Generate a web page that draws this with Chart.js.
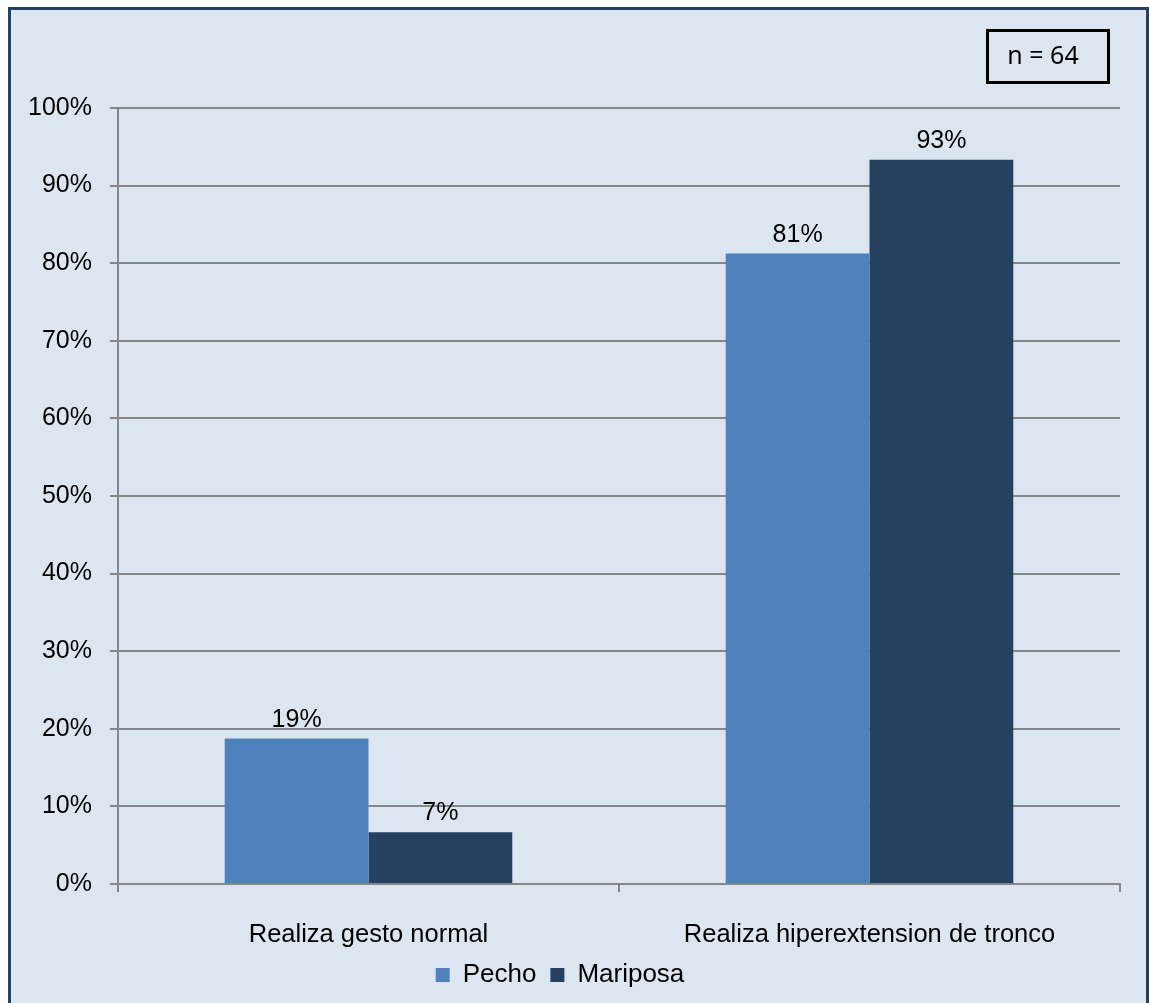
<!DOCTYPE html>
<html>
<head>
<meta charset="utf-8">
<script src="https://cdn.jsdelivr.net/npm/chart.js@4"></script>
<style>
  body { margin: 0; background: #ffffff; overflow: hidden; }
  #frame { position: absolute; left: 8px; top: 7px; width: 1135px; height: 1010px;
           border: 3px solid #254061; background: #dce6f1; }
  #wrap { position: absolute; left: 0; top: 0; width: 1149px; height: 1003px; }
</style>
</head>
<body>
<div id="frame"></div>
<div id="wrap"><canvas id="chart"></canvas></div>
<script>
const categories = ["Realiza gesto normal", "Realiza hiperextension de tronco"]
const seriesNames = ["Pecho", "Mariposa"]
const pecho = [18.75, 81.25]
const mariposa = [6.67, 93.33]
const sampleNote = "n = 64"

const font = "'Liberation Sans', Arial, sans-serif"

// value labels above the bars
const barLabels = {
  id: "barLabels",
  afterDatasetsDraw(chart) {
    const ctx = chart.ctx
    ctx.save()
    ctx.font = "25px " + font
    ctx.fillStyle = "#000000"
    ctx.textAlign = "center"
    ctx.textBaseline = "alphabetic"
    chart.data.datasets.forEach((ds, i) => {
      chart.getDatasetMeta(i).data.forEach((bar, j) => {
        ctx.fillText(Math.round(ds.data[j]) + "%", bar.x, bar.y - 12)
      })
    })
    ctx.restore()
  }
}

// the "n = 64" box in the corner
const noteBox = {
  id: "noteBox",
  afterDraw(chart) {
    const ctx = chart.ctx
    ctx.save()
    ctx.strokeStyle = "#000000"
    ctx.lineWidth = 3
    ctx.strokeRect(987.5, 30.5, 121, 52)
    ctx.font = "25px 'Noto Sans', sans-serif"
    ctx.fillStyle = "#000000"
    ctx.textAlign = "center"
    ctx.textBaseline = "middle"
    ctx.fillText(sampleNote, 1043, 57)
    ctx.restore()
  }
}

new Chart(document.getElementById("chart"), {
  type: "bar",
  plugins: [barLabels, noteBox],
  data: {
    labels: categories,
    datasets: [
      { label: seriesNames[0], data: pecho, backgroundColor: "#4f81bd" },
      { label: seriesNames[1], data: mariposa, backgroundColor: "#254061" }
    ]
  },
  options: {
    responsive: true,
    maintainAspectRatio: false,
    animation: false,
    layout: { padding: { top: 108, right: 29, left: 0, bottom: 5 } },
    datasets: { bar: { categoryPercentage: 0.574, barPercentage: 1 } },
    plugins: {
      tooltip: { enabled: false },
      legend: {
        position: "bottom",
        labels: {
          color: "#000000",
          font: { family: font, size: 26 },
          boxWidth: 14,
          boxHeight: 14,
          padding: 14
        }
      }
    },
    scales: {
      x: {
        grid: { drawOnChartArea: false, offset: true, color: "#868686", tickLength: 8, lineWidth: 2 },
        border: { color: "#868686", width: 2 },
        ticks: { color: "#000000", font: { family: font, size: 25.5 }, padding: 28, maxRotation: 0 },
        afterFit(scale) { scale.height = 64 }
      },
      y: {
        min: 0,
        max: 100,
        grid: { color: "#868686", tickLength: 8, lineWidth: 2 },
        border: { color: "#868686", width: 2 },
        ticks: {
          stepSize: 10,
          color: "#000000",
          font: { family: font, size: 25 },
          padding: 18,
          callback: (v) => v + "%"
        },
        afterFit(scale) { scale.width = 118 }
      }
    }
  }
})
</script>
</body>
</html>
